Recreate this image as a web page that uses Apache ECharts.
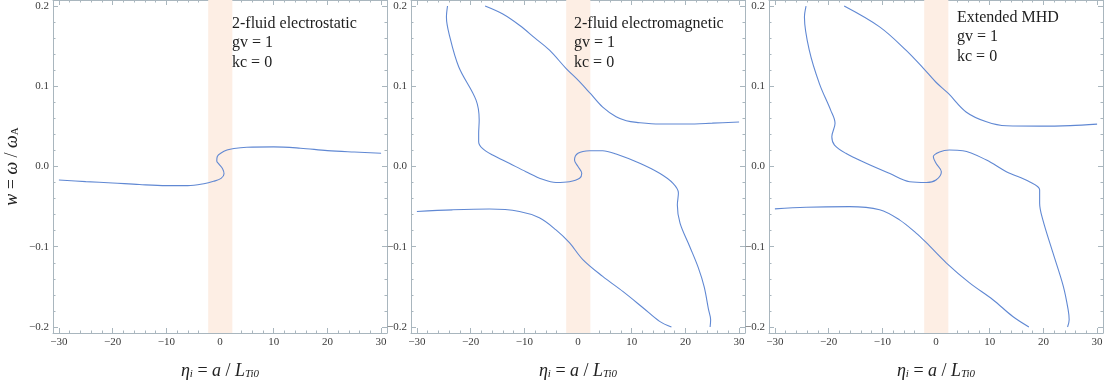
<!DOCTYPE html>
<html>
<head>
<meta charset="utf-8">
<script src="https://cdn.jsdelivr.net/npm/echarts@6/dist/echarts.min.js"></script>
<style>html,body{margin:0;padding:0;background:#fff}#c{width:1109px;height:385px}</style>
</head>
<body>
<div id="c"></div>
<script>
// ---- tick labels ----
const xTicks = [-30, -20, -10, 0, 10, 20, 30];
const yTicks = [-0.2, -0.1, 0, 0.1, 0.2];
const xMinorStep = 2;
const yMinorStep = 0.02;
// ---- shaded band (eta_i range) ----
const band = [-2.2, 2.3];
// ---- panel labels ----
const panelTitles = ['2-fluid electrostatic', '2-fluid electromagnetic', 'Extended MHD'];
const panelParams = ['gv = 1', 'kc = 0'];

// ---- series values [eta_i, w] ----
const esCurve = [[-30,-0.0168],[-25,-0.0188],[-20,-0.0205],[-15,-0.0225],[-10,-0.0238],[-6,-0.0238],[-3,-0.0215],[-1.2,-0.0185],[0.2,-0.0148],[0.75,-0.009],[0.5,-0.003],[-0.2,0.003],[-0.6,0.007],[-0.5,0.0125],[0.2,0.0168],[1.3,0.0205],[2.6,0.0225],[5,0.024],[10,0.0245],[15,0.0228],[20,0.0198],[25,0.018],[30,0.0165]];

const emUpper = [[-17.3,0.2],[-14,0.19],[-10.9,0.176],[-8,0.16],[-5.3,0.145],[-2.2,0.122],[0.1,0.107],[2.3,0.091],[4.6,0.074],[7.1,0.062],[9,0.057],[10.9,0.055],[15.2,0.053],[20.2,0.053],[25,0.054],[30,0.0555]];
const emMiddle = [[-24.3,0.2],[-24.5,0.186],[-24,0.165],[-22.2,0.124],[-19.0,0.083],[-18.4,0.058],[-18.5,0.041],[-18.5,0.031],[-17.8,0.0226],[-15.9,0.0143],[-12.8,0.004],[-9.7,-0.0065],[-6.6,-0.016],[-4.1,-0.020],[-1.6,-0.019],[0.3,-0.0147],[0.7,-0.0085],[0,0],[-0.65,0.008],[0,0.0164],[2.15,0.0197],[4.6,0.0197],[7.1,0.0155],[11.5,0.004],[15.2,-0.0085],[17.7,-0.021],[18.7,-0.033],[18.5,-0.048],[19,-0.0706],[20.8,-0.0996],[22.4,-0.126],[23.5,-0.15],[24.3,-0.178],[24.7,-0.191],[24.6,-0.2]];
const emLower = [[-30,-0.056],[-23.4,-0.054],[-16.5,-0.053],[-10.9,-0.056],[-7.2,-0.064],[-4.1,-0.079],[-1.6,-0.095],[0.9,-0.116],[4.6,-0.137],[8.4,-0.156],[12.1,-0.176],[15.2,-0.193],[17.4,-0.2]];

const mhdUpper = [[-17.1,0.2],[-10.5,0.174],[-5.6,0.145],[-2.3,0.122],[0,0.105],[2.3,0.091],[5.6,0.068],[9.4,0.0557],[13.1,0.0507],[19.3,0.0503],[25,0.051],[30,0.0528]];
const mhdMiddle = [[-24.2,0.2],[-24.5,0.186],[-23.6,0.145],[-21.7,0.103],[-19.6,0.070],[-18.8,0.054],[-19.4,0.037],[-18.9,0.0267],[-16.8,0.0164],[-13,0.004],[-8.7,-0.0085],[-4.9,-0.019],[-1.8,-0.020],[0,-0.0168],[1,-0.0065],[0,0.004],[-0.5,0.012],[0.65,0.018],[2.5,0.0205],[5,0.0197],[9.4,0.008],[13.1,-0.0065],[17.4,-0.019],[19.3,-0.029],[19.3,-0.0457],[19.9,-0.0665],[21.8,-0.108],[23.7,-0.149],[24.6,-0.178],[24.8,-0.191],[24.5,-0.2]];
const mhdLower = [[-30,-0.0528],[-24.2,-0.0507],[-16.1,-0.050],[-10.5,-0.054],[-6.8,-0.0665],[-3.7,-0.083],[-1.8,-0.095],[1.9,-0.120],[6.25,-0.145],[10.6,-0.166],[14.3,-0.187],[17.3,-0.2]];

const panels = [[esCurve], [emUpper, emMiddle, emLower], [mhdUpper, mhdMiddle, mhdLower]];

// ---- layout / style ----
const X_EXT = [-31.1, 31.1];
const Y_EXT = [-0.2075, 0.2075];
const gridLefts = [53, 411, 769];
const GRID_W = 334, GRID_H = 333;
const frameColor = '#a9b6be';
const lineColor = '#6088d3';
const serif = '"Liberation Serif","DejaVu Serif",serif';

function range(a, b, s) { const r = []; const n = Math.round((b - a) / s); for (let i = 0; i <= n; i++) r.push(+(a + i * s).toFixed(4)); return r; }
const xMinor = range(-30, 30, xMinorStep);
const yMinor = range(-0.2, 0.2, yMinorStep);
const fmt = v => String(Math.round(v)).replace('-', '\u2212');
const fmtY = v => (Math.abs(v) < 1e-9 ? 0 : v).toFixed(1).replace('-', '\u2212');

const grids = [], xAxes = [], yAxes = [], series = [], graphics = [];

const xName = '{i|\u03b7}{s|i}{n| = }{i|a}{n| / }{i|L}{s|Ti0}';
const yName = '{i|w}{n| = }{i|\u03c9}{n| / }{i|\u03c9}{u|A}';
const nameRich = {
  i: { fontFamily: serif, fontStyle: 'italic', fontSize: 18, color: '#222', verticalAlign: 'bottom', lineHeight: 20 },
  n: { fontFamily: serif, fontSize: 18, color: '#222', verticalAlign: 'bottom', lineHeight: 20 },
  s: { fontFamily: serif, fontStyle: 'italic', fontSize: 11, color: '#222', verticalAlign: 'bottom', lineHeight: 9 },
  u: { fontFamily: serif, fontSize: 11, color: '#222', verticalAlign: 'bottom', lineHeight: 9 }
};
const tickFont = { fontFamily: serif, fontSize: 11, color: '#3a3a3a' };

panels.forEach((curves, p) => {
  grids.push({ left: gridLefts[p], top: 0, width: GRID_W, height: GRID_H, containLabel: false });
  const base = { gridIndex: p, type: 'value', min: X_EXT[0], max: X_EXT[1], splitLine: { show: false } };
  const ybase = { gridIndex: p, type: 'value', min: Y_EXT[0], max: Y_EXT[1], splitLine: { show: false } };
  const line = { show: true, onZero: false, lineStyle: { color: frameColor, width: 1 } };
  const noLine = { show: false, onZero: false };
  xAxes.push(Object.assign({}, base, {
    position: 'bottom', axisLine: line,
    axisTick: { show: true, inside: true, length: 5, customValues: xTicks, lineStyle: { color: frameColor } },
    axisLabel: Object.assign({ show: true, customValues: xTicks, formatter: fmt, margin: 4 }, tickFont),
    name: xName, nameLocation: 'middle', nameGap: 27, nameTextStyle: { rich: nameRich }
  }));
  xAxes.push(Object.assign({}, base, {
    position: 'bottom', axisLine: noLine,
    axisTick: { show: true, inside: true, length: 2.5, customValues: xMinor, lineStyle: { color: frameColor } },
    axisLabel: { show: false }
  }));
  xAxes.push(Object.assign({}, base, {
    position: 'top', axisLine: line,
    axisTick: { show: true, inside: true, length: 5, customValues: xTicks, lineStyle: { color: frameColor } },
    axisLabel: { show: false }
  }));
  xAxes.push(Object.assign({}, base, {
    position: 'top', axisLine: noLine,
    axisTick: { show: true, inside: true, length: 2.5, customValues: xMinor, lineStyle: { color: frameColor } },
    axisLabel: { show: false }
  }));
  yAxes.push(Object.assign({}, ybase, {
    position: 'left', axisLine: line,
    axisTick: { show: true, inside: true, length: 5, customValues: yTicks, lineStyle: { color: frameColor } },
    axisLabel: Object.assign({ show: true, customValues: yTicks, formatter: fmtY, margin: 4 }, tickFont),
    name: p === 0 ? yName : '', nameLocation: 'middle', nameGap: 32, nameRotate: 90, nameTextStyle: { rich: nameRich }
  }));
  yAxes.push(Object.assign({}, ybase, {
    position: 'left', axisLine: noLine,
    axisTick: { show: true, inside: true, length: 2.5, customValues: yMinor, lineStyle: { color: frameColor } },
    axisLabel: { show: false }
  }));
  yAxes.push(Object.assign({}, ybase, {
    position: 'right', axisLine: line,
    axisTick: { show: true, inside: true, length: 5, customValues: yTicks, lineStyle: { color: frameColor } },
    axisLabel: { show: false }
  }));
  yAxes.push(Object.assign({}, ybase, {
    position: 'right', axisLine: noLine,
    axisTick: { show: true, inside: true, length: 2.5, customValues: yMinor, lineStyle: { color: frameColor } },
    axisLabel: { show: false }
  }));

  curves.forEach((data, k) => {
    const s = {
      type: 'line', xAxisIndex: p * 4, yAxisIndex: p * 4, data: data,
      showSymbol: false, symbol: 'none', smooth: 0.35, silent: true, z: 3,
      lineStyle: { color: lineColor, width: 1.1 }
    };
    if (k === 0) {
      s.markArea = { silent: true, itemStyle: { color: '#fdeee4' }, z: 1,
        data: [[{ xAxis: band[0] }, { xAxis: band[1] }]] };
    }
    series.push(s);
  });
});

const textPos = [[232, 14], [574, 14], [957, 8]];
panelTitles.forEach((t, p) => {
  graphics.push({
    type: 'text', left: textPos[p][0], top: textPos[p][1], z: 10,
    style: { text: [t].concat(panelParams).join('\n'), font: '16px ' + serif, fill: '#1e1e1e', lineHeight: 19.5 }
  });
});

const chart = echarts.init(document.getElementById('c'), null, { renderer: 'canvas' });
chart.setOption({
  animation: false,
  backgroundColor: '#fff',
  grid: grids, xAxis: xAxes, yAxis: yAxes, series: series, graphic: graphics
});
</script>
</body>
</html>
